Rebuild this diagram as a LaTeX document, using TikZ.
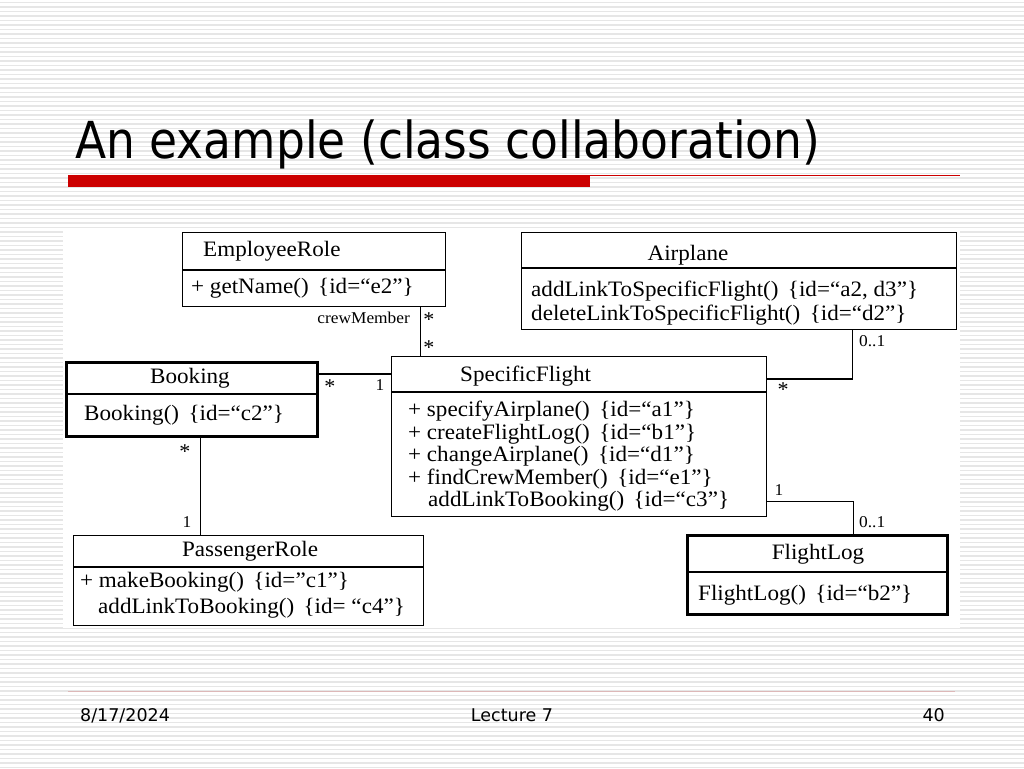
\documentclass[tikz,border=0pt]{standalone}
\usepackage{fontspec}
\usepackage{graphicx}
\setmainfont{Liberation Serif}[FakeStretch=1.05]
\newfontfamily\slidefont{DejaVu Sans}
\usetikzlibrary{positioning}
\definecolor{slidered}{HTML}{CC0000}
\definecolor{stripegray}{HTML}{E6E6E6}
\definecolor{footline}{HTML}{DDB8B8}

\begin{document}
\begin{tikzpicture}[x=1pt,y=-1pt,
  classbox/.style={draw,line width=1.4pt,anchor=north west,inner sep=0pt},
  boldbox/.style={classbox,line width=2.6pt},
  cname/.style={font=\fontsize{22}{25}\selectfont,inner sep=0pt},
  cop/.style={font=\fontsize{22}{25}\selectfont,inner sep=0pt,anchor=base west},
  mult/.style={font=\fontsize{16.5}{19}\selectfont,inner sep=0pt},
  star/.style={font=\fontsize{21}{24}\selectfont,inner sep=0pt,anchor=base},
  link/.style={line width=1.4pt},
  foot/.style={font=\slidefont\fontsize{17.5}{20}\selectfont,inner sep=0pt}]
\useasboundingbox (0,0) rectangle (1024,768);
% slide background
\fill[white] (0,0) rectangle (1024,768);
\foreach \y in {2.5,7,...,768}
  \draw[stripegray,line width=1.2pt] (0,\y) -- (1024,\y);
\fill[white] (63,228) rectangle (960,628);

% title
\node[anchor=base west,inner sep=0pt,font=\slidefont\fontsize{51}{60}\selectfont] (title) at (75,158)
  {\resizebox{745pt}{\height}{An example (class collaboration)}};
\fill[slidered] (68,175) rectangle (590,187);
\draw[slidered,line width=1.4pt] (590,175.5) -- (960,175.5);

% classes
\node[classbox,minimum width=263pt,minimum height=74pt] (emp) at (182,232) {};
\draw[line width=1.4pt] ([yshift=-38pt]emp.north west) -- ([yshift=-38pt]emp.north east);
\node[cname,anchor=base west] (empT) at (203,256) {EmployeeRole};
\node[cop] (empM) at (191,293) {+ getName()\, \{id=“e2”\}};

\node[classbox,minimum width=435pt,minimum height=97pt] (ap) at (521,232) {};
\draw[line width=1.4pt] ([yshift=-36pt]ap.north west) -- ([yshift=-36pt]ap.north east);
\node[cname,anchor=base] (apT) at (688,260) {Airplane};
\node[cop] (apM1) at (531,296) {addLinkToSpecificFlight()\, \{id=“a2, d3”\}};
\node[cop] (apM2) at (531,320) {deleteLinkToSpecificFlight()\, \{id=“d2”\}};

\node[boldbox,minimum width=251pt,minimum height=74pt] (bk) at (65,361) {};
\draw[line width=2.6pt] ([yshift=-33pt]bk.north west) -- ([yshift=-33pt]bk.north east);
\node[cname,anchor=base] (bkT) at (190,383) {Booking};
\node[cop] (bkM) at (84,420) {Booking()\, \{id=“c2”\}};

\node[classbox,minimum width=375pt,minimum height=160pt] (sf) at (391,356) {};
\draw[line width=1.4pt] ([yshift=-36pt]sf.north west) -- ([yshift=-36pt]sf.north east);
\node[cname,anchor=base west] (sfT) at (460,381) {SpecificFlight};
\node[cop] (sfM1) at (408,416) {+ specifyAirplane()\, \{id=“a1”\}};
\node[cop] (sfM2) at (408,439) {+ createFlightLog()\, \{id=“b1”\}};
\node[cop] (sfM3) at (408,461) {+ changeAirplane()\, \{id=“d1”\}};
\node[cop] (sfM4) at (408,484) {+ findCrewMember()\, \{id=“e1”\}};
\node[cop] (sfM5) at (428,506) {addLinkToBooking()\, \{id=“c3”\}};

\node[classbox,minimum width=350pt,minimum height=90pt] (pr) at (73,535) {};
\draw[line width=1.4pt] ([yshift=-32pt]pr.north west) -- ([yshift=-32pt]pr.north east);
\node[cname,anchor=base] (prT) at (250,556) {PassengerRole};
\node[cop] (prM1) at (80,587) {+ makeBooking()\, \{id=”c1”\}};
\node[cop] (prM2) at (98,613) {addLinkToBooking()\, \{id= “c4”\}};

\node[boldbox,minimum width=260pt,minimum height=79pt] (fl) at (686,534) {};
\draw[line width=2.6pt] ([yshift=-38pt]fl.north west) -- ([yshift=-38pt]fl.north east);
\node[cname,anchor=base] (flT) at (818,559) {FlightLog};
\node[cop] (flM) at (698,600) {FlightLog()\, \{id=“b2”\}};

% associations
\draw[link] ([xshift=-26pt]emp.south east) -- ([xshift=-26pt]emp.south east |- sf.north);
\draw[link] ([yshift=-13pt]bk.north east) -- ([yshift=-13pt]bk.north east -| sf.west);
\draw[link] ([xshift=-105pt]ap.south east) |- ([yshift=-23pt]sf.north east);
\draw[link] ([yshift=16pt]sf.south east) -| ([xshift=-95pt]fl.north east);
\draw[link] ([xshift=-118pt]bk.south east) -- ([xshift=-118pt]bk.south east |- pr.north);

% multiplicities
\node[mult,anchor=base east] (crew) at (410,323) {crewMember};
\node[star] (m1) at (429,326) {*};
\node[star] (m2) at (429,354) {*};
\node[star] (m3) at (330,393) {*};
\node[mult,anchor=base] (m4) at (380,390) {1};
\node[mult,anchor=base west] (m5) at (859,346) {0..1};
\node[star] (m6) at (783,396) {*};
\node[mult,anchor=base] (m7) at (779,495) {1};
\node[mult,anchor=base west] (m8) at (859,527) {0..1};
\node[star] (m9) at (185,458) {*};
\node[mult,anchor=base] (m10) at (187,527) {1};

% footer
\draw[footline,line width=1pt] (68,691) -- (955,691);
\node[foot,anchor=base west] (date) at (80,721) {8/17/2024};
\node[foot,anchor=base] (lect) at (512,721) {Lecture 7};
\node[foot,anchor=base east] (page) at (945,721) {40};
\end{tikzpicture}
\end{document}
